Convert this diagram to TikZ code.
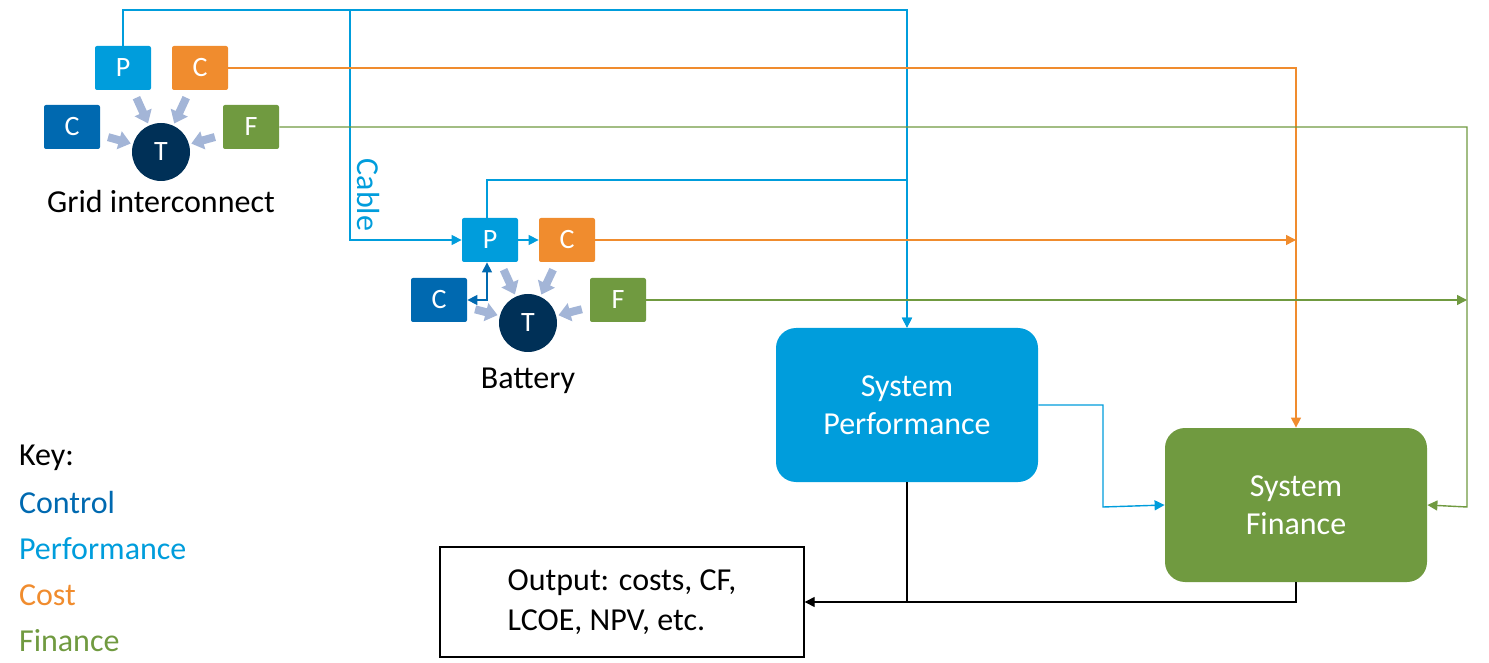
\documentclass[tikz,border=0pt]{standalone}
\usepackage{fontspec}
\setmainfont{Carlito}
\usetikzlibrary{arrows.meta,positioning}
\definecolor{perf}{HTML}{009DDC}
\definecolor{cost}{HTML}{F08C2E}
\definecolor{ctrl}{HTML}{0069B0}
\definecolor{fin}{HTML}{709A40}
\definecolor{tech}{HTML}{003057}
\definecolor{feed}{HTML}{A3B5D7}
\tikzset{
  blk/.style={fill=#1,text=white,minimum width=28pt,minimum height=22pt,rounded corners=1pt,font=\fontsize{14}{14}\selectfont,inner sep=0pt},
  tnode/.style={circle,fill=tech,text=white,minimum size=29pt,inner sep=0pt,font=\fontsize{14}{14}\selectfont},
  feedarr/.style={draw=feed,line width=4pt,-{Triangle[length=6pt,width=9pt]},shorten <=4pt,shorten >=1pt},
  sys/.style={fill=#1,text=white,rounded corners=10pt,minimum width=131pt,minimum height=77pt,align=center,font=\fontsize{16}{19}\selectfont},
  wire/.style={draw=#1,line width=0.7pt,-{Triangle[length=5pt,width=5pt]}},
  lbl/.style={font=\fontsize{16}{16}\selectfont}
}
\begin{document}
\begin{tikzpicture}[x=0.5pt,y=-0.5pt]
\useasboundingbox (0,0) rectangle (1489,663);

% grid interconnect
\node[blk=perf] (gp) at (123,68) {P};
\node[blk=cost] (gc) at (200,68) {C};
\node[blk=ctrl] (gk) at (72,127) {C};
\node[blk=fin]  (gf) at (251,127) {F};
\node[tnode] (gt) at (161,152) {T};
\node[lbl] (glbl) at (161,202) {Grid interconnect};
\foreach \n in {gp,gc,gk,gf}
  \draw[feedarr] (\n) -- (gt);

% battery
\node[blk=perf] (bp) at (490,240) {P};
\node[blk=cost] (bc) at (567,240) {C};
\node[blk=ctrl] (bk) at (439,300) {C};
\node[blk=fin]  (bf) at (618,300) {F};
\node[tnode] (bt) at (528,323) {T};
\node[lbl] (blbl) at (528,381) {Battery};
\foreach \n in {bp,bc,bk,bf}
  \draw[feedarr] (\n) -- (bt);
\draw[wire=perf] (bp) -- (bc);
\coordinate (bkp) at (487,300);
\draw[draw=ctrl,line width=0.7pt,{Triangle[length=5pt,width=5pt]}-{Triangle[length=5pt,width=5pt]}] (bk.east) -- (bkp) -- (bp.south -| bkp);

% system blocks
\node[sys=perf] (perfsys) at (907,405) {System\\Performance};
\node[sys=fin] (finsys) at (1296,505) {System\\Finance};
\node[draw,line width=0.7pt,minimum width=182pt,minimum height=55pt,align=left,font=\fontsize{16}{20}\selectfont] (out) at (622,602) {Output: costs, CF,\\LCOE, NPV, etc.};

% connectors
\draw[wire=perf] (gp.north) |- (907,10) -- (perfsys.north);
\draw[wire=perf] (350,10) -- (350,240) -- (bp.west);
\node[text=perf,lbl,rotate=-90,anchor=south] (cable) at (350,195) {Cable};
\draw[wire=perf] (bp.north -| bkp) |- (907,180) -- (perfsys.north);
\draw[wire=cost] (gc.east) -| (finsys.north);
\draw[wire=cost] (bc.east) -- (bc.east -| finsys.north);
\draw[wire=fin] (gf.east) -| (1467,507) -- (finsys.east);
\draw[wire=fin] (bf.east) -- (bf.east -| 1467,0);
\draw[wire=perf] (perfsys.east) -| (1103,507) -- (finsys.west);
\draw[wire=black] (finsys.south) |- (out.east);
\draw[line width=0.7pt] (perfsys.south) -- (perfsys.south |- out.east);

% key
\node[lbl,anchor=west] (key) at (12,458) {Key:};
\node[lbl,anchor=west,text=ctrl] (kctrl) at (12,503) {Control};
\node[lbl,anchor=west,text=perf] (kperf) at (12,549) {Performance};
\node[lbl,anchor=west,text=cost] (kcost) at (12,595) {Cost};
\node[lbl,anchor=west,text=fin] (kfin) at (12,641) {Finance};
\end{tikzpicture}
\end{document}
